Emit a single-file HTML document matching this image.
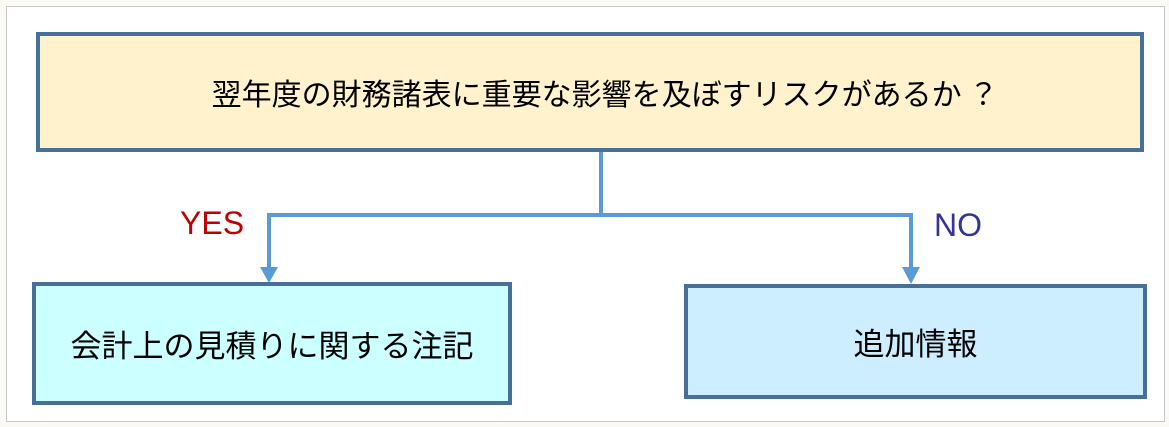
<!DOCTYPE html>
<html><head><meta charset="utf-8"><style>
html,body{margin:0;padding:0;}
body{width:1169px;height:427px;background:#fbf9f3;position:relative;overflow:hidden;font-family:"Liberation Sans","Noto Sans CJK JP",sans-serif;}
.frame{position:absolute;left:6px;top:6px;width:1157px;height:414px;background:#fff;border:1px solid #c8c8c8;}
.box{position:absolute;box-sizing:border-box;border:4px solid #46709a;display:flex;align-items:center;justify-content:center;font-size:31px;color:#000;font-family:"Noto Sans CJK JP",sans-serif;}
.lbl{position:absolute;font-size:32px;}
</style></head><body>
<div class="frame"></div>
<svg style="position:absolute;left:0;top:0" width="1169" height="427">
<g stroke="#5b9bd5" stroke-width="4" fill="none">
<line x1="601" y1="151" x2="601" y2="215"/>
<polyline points="269,270 269,215 911,215 911,270"/>
</g>
<polygon points="260,267 278,267 269,283" fill="#5b9bd5"/>
<polygon points="902,267 920,267 911,284" fill="#5b9bd5"/>
</svg>
<div class="box" style="left:36px;top:32px;width:1108px;height:120px;background:#fff2cc;padding-left:30px;font-size:30px;">翌年度の財務諸表に重要な影響を及ぼすリスクがあるか ？</div>
<div class="box" style="left:32px;top:282px;width:480px;height:123px;background:#ccffff;">会計上の見積りに関する注記</div>
<div class="box" style="left:684px;top:284px;width:463px;height:115px;background:#cceeff;">追加情報</div>
<div class="lbl" style="left:180px;top:205px;color:#c00000;">YES</div>
<div class="lbl" style="left:934px;top:207px;color:#333399;">NO</div>
</body></html>
